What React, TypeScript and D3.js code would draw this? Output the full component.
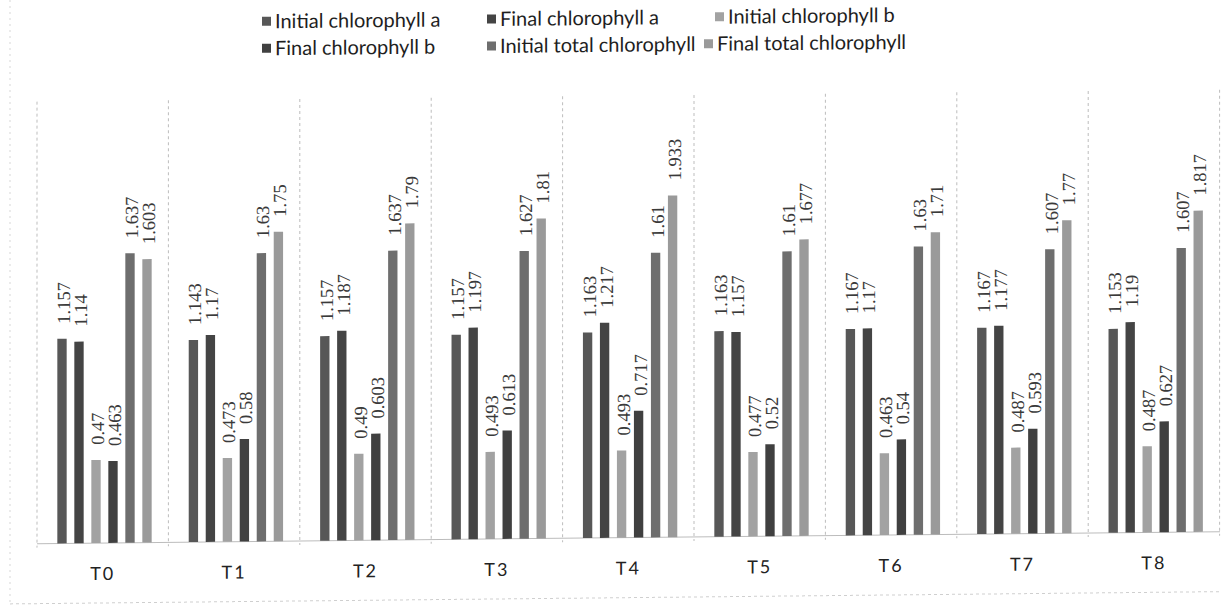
import React from "react";
import * as d3 from "d3";

const categories = ["T0", "T1", "T2", "T3", "T4", "T5", "T6", "T7", "T8"];
const seriesNames = [
  "Initial chlorophyll a",
  "Final chlorophyll a",
  "Initial chlorophyll b",
  "Final chlorophyll b",
  "Initial total chlorophyll",
  "Final total chlorophyll",
];
const initialChlA = [1.157, 1.143, 1.157, 1.157, 1.163, 1.163, 1.167, 1.167, 1.153];
const finalChlA = [1.14, 1.17, 1.187, 1.197, 1.217, 1.157, 1.17, 1.177, 1.19];
const initialChlB = [0.47, 0.473, 0.49, 0.493, 0.493, 0.477, 0.463, 0.487, 0.487];
const finalChlB = [0.463, 0.58, 0.603, 0.613, 0.717, 0.52, 0.54, 0.593, 0.627];
const initialTotal = [1.637, 1.63, 1.637, 1.627, 1.61, 1.61, 1.63, 1.607, 1.607];
const finalTotal = [1.603, 1.75, 1.79, 1.81, 1.933, 1.677, 1.71, 1.77, 1.817];
const seriesValues = [initialChlA, finalChlA, initialChlB, finalChlB, initialTotal, finalTotal];
const colors = ["#575757", "#444444", "#a2a2a2", "#404040", "#6e6e6e", "#9a9a9a"];

const W = 1222;
const H = 610;

export default function App() {
  const x0 = d3.scaleBand<string>().domain(categories).range([37, 1219.6]).padding(0);
  const x1 = d3
    .scaleBand<string>()
    .domain(seriesNames)
    .range([16.5, 118.5])
    .paddingInner(0.45)
    .paddingOuter(0.225);
  const y = d3.scaleLinear().domain([0, 2.5]).range([544, 102]);
  const base = y(0);

  const legendRows = [
    [0, 1, 2],
    [3, 4, 5],
  ];
  const legendX = [[262, 487, 715], [262, 487, 704]];
  const legendY = [24, 51];

  const bounds = categories.map((c) => x0(c) as number).concat([x0.range()[1]]);

  return (
    <svg width={W} height={H} style={{ position: "absolute", left: 0, top: 0, background: "#fff" }}>
      <rect x={0} y={0} width={W} height={H} fill="#ffffff" />
      <g transform="skewY(-0.58)">
        <line x1={10} x2={10} y1={0} y2={603} stroke="#d8d8d8" strokeDasharray="2,4" />
        <line x1={10} x2={1222} y1={604} y2={604} stroke="#cfcfcf" strokeDasharray="3,3" />
        {bounds.map((bx, i) => (
          <line
            key={"sep" + i}
            x1={bx}
            x2={bx}
            y1={y(2.5)}
            y2={base + 4}
            stroke="#bdbdbd"
            strokeWidth={1}
            strokeDasharray="3,3"
          />
        ))}
        <line x1={37} x2={1220} y1={base} y2={base} stroke="#bcbcbc" strokeWidth={1} />
        {categories.map((c, ci) => (
          <g key={c} transform={`translate(${x0(c)},0)`}>
            {seriesNames.map((s, si) => {
              const v = seriesValues[si][ci];
              const bx = x1(s) as number;
              const bw = x1.bandwidth();
              const cx = bx + bw / 2;
              const ty = y(v) - 15;
              return (
                <g key={s}>
                  <rect x={bx} y={y(v)} width={bw} height={base - y(v)} fill={colors[si]} />
                  <text
                    transform={`translate(${cx + 1.5},${ty}) rotate(-90)`}
                    dy="0.35em"
                    fontFamily="'Liberation Serif', serif"
                    fontSize={18.5}
                    fill="#3a3a3a"
                    textAnchor="start"
                  >
                    {String(v)}
                  </text>
                </g>
              );
            })}
            <text
              x={x0.bandwidth() / 2}
              y={base + 37}
              textAnchor="middle"
              fontFamily="Lato, sans-serif"
              fontSize={18}
              letterSpacing={2}
              fill="#222"
            >
              {c}
            </text>
          </g>
        ))}
        {legendRows.map((row, ri) =>
          row.map((si, k) => (
            <g key={"lg" + si} transform={`translate(${legendX[ri][k]},${legendY[ri]})`}>
              <rect x={0} y={-4.5} width={9} height={9} fill={colors[si]} />
              <text
                x={13}
                y={0}
                dy="0.35em"
                fontFamily="Lato, sans-serif"
                fontSize={20}
                fill="#1e1e1e"
              >
                {seriesNames[si]}
              </text>
            </g>
          ))
        )}
      </g>
    </svg>
  );
}
